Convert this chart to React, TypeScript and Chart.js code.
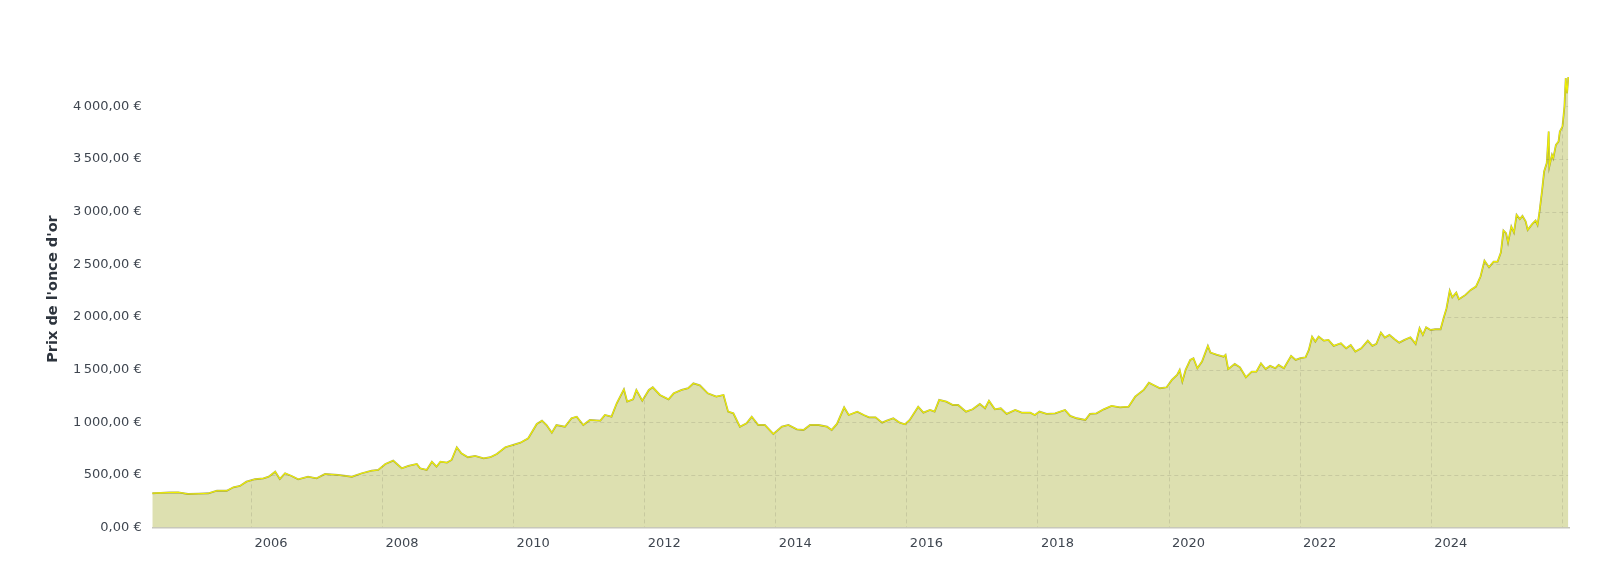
import React, { useEffect, useRef } from 'react';
import { Chart, registerables } from 'chart.js';

Chart.register(...registerables);

// Dates as decimal years, values in EUR per ounce
const years = [
  2004.49, 2004.62, 2004.75, 2004.89, 2005.04, 2005.2, 2005.35, 2005.48, 2005.63, 2005.73,
  2005.83, 2005.93, 2006.06, 2006.19, 2006.27, 2006.37, 2006.44, 2006.52, 2006.62, 2006.72,
  2006.87, 2007.0, 2007.13, 2007.33, 2007.54, 2007.69, 2007.84, 2007.94, 2008.05, 2008.17,
  2008.3, 2008.4, 2008.53, 2008.58, 2008.68, 2008.76, 2008.83, 2008.89, 2008.99, 2009.06,
  2009.14, 2009.21, 2009.31, 2009.42, 2009.55, 2009.65, 2009.75, 2009.88, 2010.0, 2010.11,
  2010.23, 2010.36, 2010.44, 2010.51, 2010.59, 2010.66, 2010.79, 2010.89, 2010.97, 2011.07,
  2011.17, 2011.33, 2011.4, 2011.5, 2011.58, 2011.69, 2011.74, 2011.83, 2011.88, 2011.97,
  2012.07, 2012.13, 2012.24, 2012.37, 2012.45, 2012.57, 2012.67, 2012.75, 2012.85, 2012.97,
  2013.1, 2013.21, 2013.28, 2013.36, 2013.46, 2013.56, 2013.64, 2013.74, 2013.84, 2013.97,
  2014.1, 2014.2, 2014.33, 2014.43, 2014.53, 2014.66, 2014.79, 2014.86, 2014.94, 2015.05,
  2015.12, 2015.25, 2015.35, 2015.43, 2015.53, 2015.63, 2015.7, 2015.8, 2015.9, 2015.98,
  2016.05, 2016.18, 2016.26, 2016.36, 2016.43, 2016.5, 2016.61, 2016.71, 2016.79, 2016.91,
  2017.01, 2017.12, 2017.2, 2017.26, 2017.35, 2017.44, 2017.53, 2017.66, 2017.76, 2017.89,
  2017.96, 2018.03, 2018.14, 2018.27, 2018.42, 2018.5, 2018.6, 2018.73, 2018.8, 2018.9,
  2019.01, 2019.13, 2019.26, 2019.39, 2019.49, 2019.62, 2019.7, 2019.77, 2019.87, 2019.97,
  2020.05, 2020.13, 2020.17, 2020.21, 2020.26, 2020.33, 2020.38, 2020.44, 2020.51, 2020.6,
  2020.64, 2020.74, 2020.84, 2020.87, 2020.91, 2021.01, 2021.09, 2021.18, 2021.27, 2021.34,
  2021.41, 2021.48, 2021.55, 2021.63, 2021.68, 2021.76, 2021.87, 2021.94, 2022.01, 2022.09,
  2022.14, 2022.19, 2022.24, 2022.29, 2022.37, 2022.44, 2022.52, 2022.63, 2022.71, 2022.78,
  2022.85, 2022.94, 2023.04, 2023.11, 2023.17, 2023.24, 2023.3, 2023.37, 2023.45, 2023.52,
  2023.6, 2023.69, 2023.77, 2023.83, 2023.88, 2023.93, 2024.0, 2024.07, 2024.15, 2024.2,
  2024.24, 2024.29, 2024.33, 2024.39, 2024.43, 2024.53, 2024.61, 2024.69, 2024.76, 2024.82,
  2024.89, 2024.96, 2025.02, 2025.07, 2025.11, 2025.15, 2025.18, 2025.23, 2025.27, 2025.31,
  2025.36, 2025.4, 2025.45, 2025.48, 2025.55, 2025.6, 2025.63, 2025.66, 2025.7, 2025.73,
  2025.77, 2025.8, 2025.81, 2025.85, 2025.87, 2025.91, 2025.95, 2025.97, 2026.01, 2026.04,
  2026.06, 2026.08, 2026.1,
];

const prices = [
  326, 330, 333, 335, 319, 322, 326, 350, 350, 383,
  395, 436, 459, 468, 483, 531, 462, 516, 490, 459,
  483, 468, 509, 500, 483, 516, 540, 547, 604, 636,
  563, 585, 604, 563, 547, 626, 578, 626, 617, 642,
  763, 706, 668, 680, 658, 668, 699, 763, 785, 806,
  848, 984, 1015, 974, 901, 974, 958, 1038, 1053, 974,
  1022, 1015, 1069, 1053, 1180, 1313, 1196, 1218, 1307, 1205,
  1307, 1332, 1259, 1218, 1275, 1307, 1323, 1370, 1350, 1275,
  1243, 1259, 1101, 1085, 958, 990, 1053, 974, 974, 889,
  958, 974, 933, 927, 974, 974, 958, 927, 984, 1142,
  1069, 1101, 1069, 1047, 1047, 996, 1015, 1038, 996, 981,
  1022, 1148, 1091, 1117, 1101, 1212, 1196, 1164, 1164, 1101,
  1123, 1174, 1133, 1205, 1123, 1133, 1079, 1117, 1091, 1091,
  1069, 1101, 1079, 1085, 1117, 1060, 1038, 1022, 1079, 1085,
  1123, 1155, 1142, 1148, 1243, 1307, 1376, 1354, 1323, 1332,
  1402, 1449, 1497, 1386, 1497, 1592, 1608, 1513, 1576, 1725,
  1661, 1640, 1623, 1640, 1504, 1554, 1522, 1427, 1481, 1481,
  1560, 1505, 1535, 1513, 1544, 1513, 1630, 1592, 1608, 1617,
  1687, 1813, 1766, 1813, 1775, 1782, 1725, 1750, 1702, 1734,
  1671, 1702, 1775, 1725, 1744, 1852, 1804, 1829, 1788, 1756,
  1782, 1807, 1744, 1893, 1829, 1902, 1876, 1883, 1883, 1997,
  2080, 2250, 2187, 2231, 2168, 2209, 2256, 2288, 2383, 2535,
  2472, 2525, 2525, 2611, 2820, 2795, 2706, 2858, 2801, 2969,
  2928, 2959, 2905, 2826, 2883, 2915, 2874, 3000, 3206, 3380,
  3460, 3760, 3428, 3539, 3507, 3633, 3665, 3760, 3807, 3997,
  4267, 4124, 4277,
];

const xTickYears = [2006, 2008, 2010, 2012, 2014, 2016, 2018, 2020, 2022, 2024, 2026];
const xLabelYears = [2006, 2008, 2010, 2012, 2014, 2016, 2018, 2020, 2022, 2024];
const yTickValues = [0, 500, 1000, 1500, 2000, 2500, 3000, 3500, 4000];
const yTitle = "Prix de l'once d'or";

const X_MIN = 2004.494;
const X_MAX = 2026.11;
const Y_MAX = 4530;

const FILL_COLOR = 'rgb(221,224,176)';
const LINE_DARK = 'rgba(110,112,0,0.6)';
const LINE_YELLOW = '#f0f000';
const GRID_COLOR = 'rgba(110,110,90,0.2)';
const TEXT_COLOR = '#3f4650';
const FONT = "'DejaVu Sans', Verdana, sans-serif";

function formatEuro(v: number): string {
  const s = v.toFixed(2);
  const [i, d] = s.split('.');
  const grouped = i.replace(/\B(?=(\d{3})+(?!\d))/g, '\u202F');
  return grouped + ',' + d + '\u00A0€';
}

const gridOverFill = {
  id: 'gridOverFill',
  afterDatasetsDraw(chart: any) {
    const { ctx, chartArea, scales } = chart;
    const x = scales.x;
    const y = scales.y;
    ctx.save();
    ctx.beginPath();
    ctx.rect(chartArea.left, chartArea.top, chartArea.right - chartArea.left, chartArea.bottom - chartArea.top);
    ctx.clip();
    ctx.globalCompositeOperation = 'source-atop';
    ctx.strokeStyle = GRID_COLOR;
    ctx.lineWidth = 1;
    ctx.setLineDash([4, 3]);
    x.ticks.forEach((t: any) => {
      const px = Math.round(x.getPixelForValue(t.value)) + 0.5;
      ctx.beginPath();
      ctx.moveTo(px, chartArea.top);
      ctx.lineTo(px, chartArea.bottom);
      ctx.stroke();
    });
    y.ticks.forEach((t: any) => {
      if (t.value === 0) return;
      const py = Math.round(y.getPixelForValue(t.value)) + 0.5;
      ctx.beginPath();
      ctx.moveTo(chartArea.left, py);
      ctx.lineTo(chartArea.right, py);
      ctx.stroke();
    });
    ctx.restore();
  },
};

export default function App() {
  const canvasRef = useRef<HTMLCanvasElement | null>(null);

  useEffect(() => {
    const canvas = canvasRef.current;
    if (!canvas) return;
    const points = years.map((yr, i) => ({ x: yr, y: prices[i] }));
    const chart = new Chart(canvas, {
      type: 'line',
      data: {
        datasets: [
          {
            data: points,
            borderColor: LINE_YELLOW,
            borderWidth: 1.1,
            pointRadius: 0,
            fill: false,
            tension: 0,
            order: 0,
          },
          {
            data: points,
            borderColor: LINE_DARK,
            borderWidth: 1.8,
            backgroundColor: FILL_COLOR,
            pointRadius: 0,
            fill: 'origin',
            tension: 0,
            order: 1,
          },
        ],
      },
      options: {
        responsive: false,
        animation: false,
        devicePixelRatio: 1,
        layout: { padding: { left: 0, right: 31, top: 50.4, bottom: 0 } },
        plugins: {
          legend: { display: false },
          tooltip: { enabled: false },
        },
        scales: {
          x: {
            type: 'linear',
            min: X_MIN,
            max: X_MAX,
            afterBuildTicks: (scale: any) => {
              scale.ticks = xTickYears.map((v) => ({ value: v }));
            },
            afterFit: (scale: any) => {
              scale.height = 35.4;
            },
            grid: { display: false, drawTicks: false },
            border: { display: true, color: 'rgba(140,140,120,0.5)', width: 1.5, dash: [2, 12] },
            ticks: {
              padding: 8.6,
              labelOffset: 20,
              maxRotation: 0,
              autoSkip: false,
              color: TEXT_COLOR,
              font: { family: FONT, size: 13 },
              callback: (v: any) => (xLabelYears.includes(Number(v)) ? String(v) : ''),
            },
          },
          y: {
            type: 'linear',
            min: 0,
            max: Y_MAX,
            afterBuildTicks: (scale: any) => {
              scale.ticks = yTickValues.map((v) => ({ value: v }));
            },
            afterFit: (scale: any) => {
              scale.width = 152.3;
            },
            grid: { display: false, drawTicks: false },
            border: { display: false },
            ticks: {
              padding: 10.6,
              color: TEXT_COLOR,
              font: { family: FONT, size: 13 },
              callback: (v: any) => formatEuro(Number(v)),
            },
            title: {
              display: true,
              text: yTitle,
              color: '#2d343d',
              font: { family: FONT, size: 14.5, weight: 'bold' },
              padding: { top: 45, bottom: 0 },
            },
          },
        },
      },
      plugins: [gridOverFill],
    });
    return () => chart.destroy();
  }, []);

  return (
    <div style={{ position: 'fixed', left: 0, top: 0, width: 1600, height: 563, background: '#fff' }}>
      <canvas ref={canvasRef} width={1600} height={563} style={{ display: 'block', width: 1600, height: 563 }} />
    </div>
  );
}
